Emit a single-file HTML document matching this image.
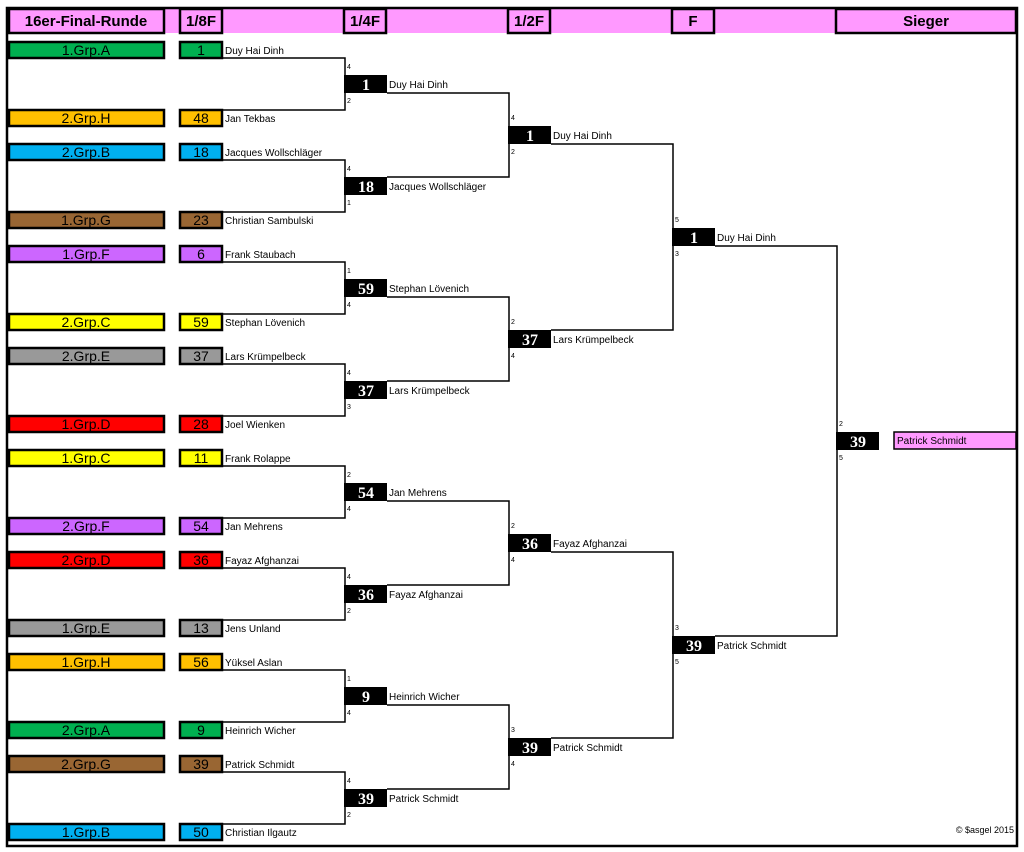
<!DOCTYPE html>
<html><head><meta charset="utf-8"><style>
html,body{margin:0;padding:0;background:#fff;}
svg{display:block;}
.h{font-family:"Liberation Sans",sans-serif;font-weight:bold;font-size:15px;}
.g{font-family:"Liberation Sans",sans-serif;font-size:14px;}
.n{font-family:"Liberation Sans",sans-serif;font-size:10px;}
.s{font-family:"Liberation Sans",sans-serif;font-size:7px;}
.b{font-family:"Liberation Serif",serif;font-weight:bold;font-size:16px;fill:#fff;}
</style></head><body>
<svg width="1024" height="852" viewBox="0 0 1024 852" xmlns="http://www.w3.org/2000/svg">
<rect x="0" y="0" width="1024" height="852" fill="#fff"/>
<rect x="8" y="9" width="1008" height="24" fill="#ff99ff"/>
<rect x="7" y="8" width="1010" height="838" fill="none" stroke="#000" stroke-width="2.5"/>
<g fill="none" stroke="#000" stroke-width="2.5">
<rect x="9" y="9" width="155" height="24"/>
<rect x="180" y="9" width="42" height="24"/>
<rect x="344" y="9" width="42" height="24"/>
<rect x="508" y="9" width="42" height="24"/>
<rect x="672" y="9" width="42" height="24"/>
<rect x="836" y="9" width="180" height="24"/>
</g>
<g class="h" text-anchor="middle">
<text x="86" y="26">16er-Final-Runde</text>
<text x="201" y="26">1/8F</text>
<text x="365" y="26">1/4F</text>
<text x="529" y="26">1/2F</text>
<text x="693" y="26">F</text>
<text x="926" y="26">Sieger</text>
</g>

<!-- group boxes -->
<g stroke="#000" stroke-width="2.5">
<rect x="9" y="42" width="155" height="16" fill="#00b050"/>
<rect x="9" y="110" width="155" height="16" fill="#ffc000"/>
<rect x="9" y="144" width="155" height="16" fill="#00b0f0"/>
<rect x="9" y="212" width="155" height="16" fill="#996633"/>
<rect x="9" y="246" width="155" height="16" fill="#cc66ff"/>
<rect x="9" y="314" width="155" height="16" fill="#ffff00"/>
<rect x="9" y="348" width="155" height="16" fill="#999999"/>
<rect x="9" y="416" width="155" height="16" fill="#ff0000"/>
<rect x="9" y="450" width="155" height="16" fill="#ffff00"/>
<rect x="9" y="518" width="155" height="16" fill="#cc66ff"/>
<rect x="9" y="552" width="155" height="16" fill="#ff0000"/>
<rect x="9" y="620" width="155" height="16" fill="#999999"/>
<rect x="9" y="654" width="155" height="16" fill="#ffc000"/>
<rect x="9" y="722" width="155" height="16" fill="#00b050"/>
<rect x="9" y="756" width="155" height="16" fill="#996633"/>
<rect x="9" y="824" width="155" height="16" fill="#00b0f0"/>

<rect x="180" y="42" width="42" height="16" fill="#00b050"/>
<rect x="180" y="110" width="42" height="16" fill="#ffc000"/>
<rect x="180" y="144" width="42" height="16" fill="#00b0f0"/>
<rect x="180" y="212" width="42" height="16" fill="#996633"/>
<rect x="180" y="246" width="42" height="16" fill="#cc66ff"/>
<rect x="180" y="314" width="42" height="16" fill="#ffff00"/>
<rect x="180" y="348" width="42" height="16" fill="#999999"/>
<rect x="180" y="416" width="42" height="16" fill="#ff0000"/>
<rect x="180" y="450" width="42" height="16" fill="#ffff00"/>
<rect x="180" y="518" width="42" height="16" fill="#cc66ff"/>
<rect x="180" y="552" width="42" height="16" fill="#ff0000"/>
<rect x="180" y="620" width="42" height="16" fill="#999999"/>
<rect x="180" y="654" width="42" height="16" fill="#ffc000"/>
<rect x="180" y="722" width="42" height="16" fill="#00b050"/>
<rect x="180" y="756" width="42" height="16" fill="#996633"/>
<rect x="180" y="824" width="42" height="16" fill="#00b0f0"/>
</g>
<g class="g" text-anchor="middle">
<text x="86" y="55">1.Grp.A</text><text x="201" y="55">1</text>
<text x="86" y="123">2.Grp.H</text><text x="201" y="123">48</text>
<text x="86" y="157">2.Grp.B</text><text x="201" y="157">18</text>
<text x="86" y="225">1.Grp.G</text><text x="201" y="225">23</text>
<text x="86" y="259">1.Grp.F</text><text x="201" y="259">6</text>
<text x="86" y="327">2.Grp.C</text><text x="201" y="327">59</text>
<text x="86" y="361">2.Grp.E</text><text x="201" y="361">37</text>
<text x="86" y="429">1.Grp.D</text><text x="201" y="429">28</text>
<text x="86" y="463">1.Grp.C</text><text x="201" y="463">11</text>
<text x="86" y="531">2.Grp.F</text><text x="201" y="531">54</text>
<text x="86" y="565">2.Grp.D</text><text x="201" y="565">36</text>
<text x="86" y="633">1.Grp.E</text><text x="201" y="633">13</text>
<text x="86" y="667">1.Grp.H</text><text x="201" y="667">56</text>
<text x="86" y="735">2.Grp.A</text><text x="201" y="735">9</text>
<text x="86" y="769">2.Grp.G</text><text x="201" y="769">39</text>
<text x="86" y="837">1.Grp.B</text><text x="201" y="837">50</text>
</g>
<g class="n">
<text x="225" y="54">Duy Hai Dinh</text>
<text x="225" y="122">Jan Tekbas</text>
<text x="225" y="156">Jacques Wollschläger</text>
<text x="225" y="224">Christian Sambulski</text>
<text x="225" y="258">Frank Staubach</text>
<text x="225" y="326">Stephan Lövenich</text>
<text x="225" y="360">Lars Krümpelbeck</text>
<text x="225" y="428">Joel Wienken</text>
<text x="225" y="462">Frank Rolappe</text>
<text x="225" y="530">Jan Mehrens</text>
<text x="225" y="564">Fayaz Afghanzai</text>
<text x="225" y="632">Jens Unland</text>
<text x="225" y="666">Yüksel Aslan</text>
<text x="225" y="734">Heinrich Wicher</text>
<text x="225" y="768">Patrick Schmidt</text>
<text x="225" y="836">Christian Ilgautz</text>
</g>

<!-- connectors -->
<g fill="none" stroke="#000" stroke-width="1.5">
<path d="M222 58H345V110H222"/>
<path d="M222 160H345V212H222"/>
<path d="M222 262H345V314H222"/>
<path d="M222 364H345V416H222"/>
<path d="M222 466H345V518H222"/>
<path d="M222 568H345V620H222"/>
<path d="M222 670H345V722H222"/>
<path d="M222 772H345V824H222"/>
<path d="M387 93H509V177H387"/>
<path d="M387 297H509V381H387"/>
<path d="M387 501H509V585H387"/>
<path d="M387 705H509V789H387"/>
<path d="M551 144H673V330H551"/>
<path d="M551 552H673V738H551"/>
<path d="M715 246H837V636H715"/>
</g>

<!-- black boxes -->
<g fill="#000">
<rect x="344" y="75" width="43" height="18"/>
<rect x="344" y="177" width="43" height="18"/>
<rect x="344" y="279" width="43" height="18"/>
<rect x="344" y="381" width="43" height="18"/>
<rect x="344" y="483" width="43" height="18"/>
<rect x="344" y="585" width="43" height="18"/>
<rect x="344" y="687" width="43" height="18"/>
<rect x="344" y="789" width="43" height="18"/>
<rect x="508" y="126" width="43" height="18"/>
<rect x="508" y="330" width="43" height="18"/>
<rect x="508" y="534" width="43" height="18"/>
<rect x="508" y="738" width="43" height="18"/>
<rect x="672" y="228" width="43" height="18"/>
<rect x="672" y="636" width="43" height="18"/>
<rect x="836" y="432" width="43" height="18"/>
</g>
<g class="b" text-anchor="middle">
<text x="366" y="90">1</text>
<text x="366" y="192">18</text>
<text x="366" y="294">59</text>
<text x="366" y="396">37</text>
<text x="366" y="498">54</text>
<text x="366" y="600">36</text>
<text x="366" y="702">9</text>
<text x="366" y="804">39</text>
<text x="530" y="141">1</text>
<text x="530" y="345">37</text>
<text x="530" y="549">36</text>
<text x="530" y="753">39</text>
<text x="694" y="243">1</text>
<text x="694" y="651">39</text>
<text x="858" y="447">39</text>
</g>
<g class="n">
<text x="389" y="88">Duy Hai Dinh</text>
<text x="389" y="190">Jacques Wollschläger</text>
<text x="389" y="292">Stephan Lövenich</text>
<text x="389" y="394">Lars Krümpelbeck</text>
<text x="389" y="496">Jan Mehrens</text>
<text x="389" y="598">Fayaz Afghanzai</text>
<text x="389" y="700">Heinrich Wicher</text>
<text x="389" y="802">Patrick Schmidt</text>
<text x="553" y="139">Duy Hai Dinh</text>
<text x="553" y="343">Lars Krümpelbeck</text>
<text x="553" y="547">Fayaz Afghanzai</text>
<text x="553" y="751">Patrick Schmidt</text>
<text x="717" y="241">Duy Hai Dinh</text>
<text x="717" y="649">Patrick Schmidt</text>
</g>
<rect x="894" y="432" width="122" height="17" fill="#ff99ff" stroke="#000" stroke-width="1.5"/>
<text class="n" x="897" y="444">Patrick Schmidt</text>

<!-- scores -->
<g class="s">
<text x="347" y="69">4</text><text x="347" y="103">2</text>
<text x="347" y="171">4</text><text x="347" y="205">1</text>
<text x="347" y="273">1</text><text x="347" y="307">4</text>
<text x="347" y="375">4</text><text x="347" y="409">3</text>
<text x="347" y="477">2</text><text x="347" y="511">4</text>
<text x="347" y="579">4</text><text x="347" y="613">2</text>
<text x="347" y="681">1</text><text x="347" y="715">4</text>
<text x="347" y="783">4</text><text x="347" y="817">2</text>
<text x="511" y="120">4</text><text x="511" y="154">2</text>
<text x="511" y="324">2</text><text x="511" y="358">4</text>
<text x="511" y="528">2</text><text x="511" y="562">4</text>
<text x="511" y="732">3</text><text x="511" y="766">4</text>
<text x="675" y="222">5</text><text x="675" y="256">3</text>
<text x="675" y="630">3</text><text x="675" y="664">5</text>
<text x="839" y="426">2</text><text x="839" y="460">5</text>
</g>
<text class="n" x="1014" y="833" text-anchor="end" style="font-size:9px">© $asgel 2015</text>
</svg>
</body></html>
